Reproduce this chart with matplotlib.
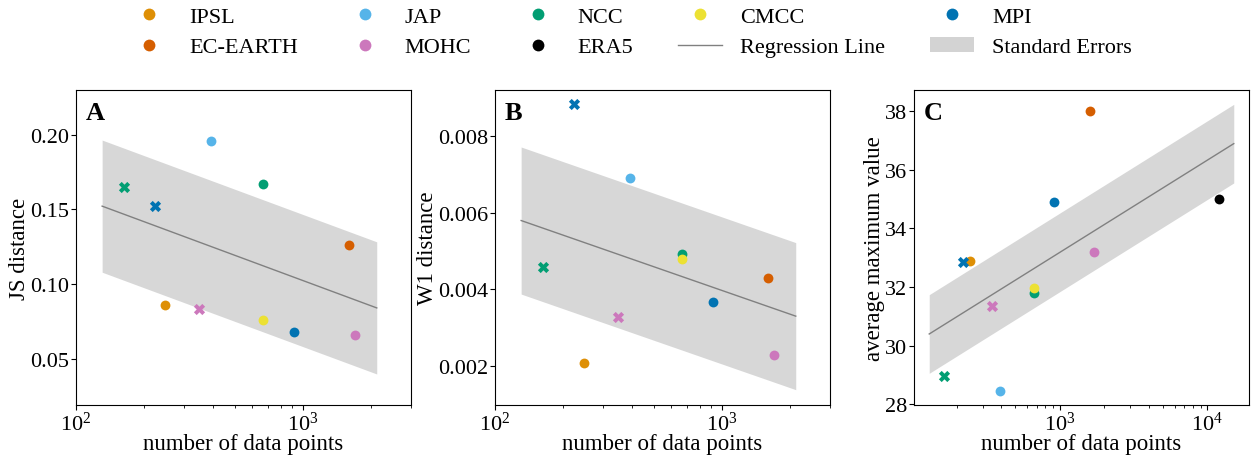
import numpy as np
import matplotlib
matplotlib.use("Agg")
import matplotlib.pyplot as plt
from matplotlib.lines import Line2D
from matplotlib.patches import Patch

plt.rcParams['font.family'] = ['Liberation Serif', 'DejaVu Serif']
plt.rcParams['mathtext.fontset'] = 'custom'
plt.rcParams['mathtext.rm'] = 'Liberation Serif'
plt.rcParams['mathtext.it'] = 'Liberation Serif:italic'
plt.rcParams['font.size'] = 16

# ---- data ----
model_names = ['IPSL', 'JAP', 'NCC', 'CMCC', 'MPI', 'EC-EARTH', 'MOHC']
model_colors = ['#de8f05', '#56b4e9', '#029e73', '#ece133', '#0173b2', '#d55e00', '#cc78bc']
n_points = [248, 395, 665, 665, 912, 1592, 1695]
js_dist = [0.086, 0.196, 0.167, 0.0758, 0.0682, 0.1264, 0.0662]
w1_dist = [0.00208, 0.0069, 0.00492, 0.00478, 0.00367, 0.00428, 0.00228]
avg_max = [32.9, 28.46, 31.78, 31.96, 34.91, 38.0, 33.19]

cross_names = ['NCC', 'MPI', 'MOHC']
cross_n = [163, 222, 348]
cross_js = [0.165, 0.152, 0.083]
cross_w1 = [0.00458, 0.00885, 0.00327]
cross_avg = [28.95, 32.85, 31.35]

era5_n = [12100]
era5_avg = [35.01]

color_of = dict(zip(model_names, model_colors))

fig = plt.figure(figsize=(12.51, 4.56), dpi=100)
W, H = 1251, 456
def ax_at(l, r, t=91, b=406):
    return fig.add_axes([l / W, 1 - b / H, (r - l) / W, (b - t) / H])

axA = ax_at(76, 411)
axB = ax_at(495, 830)
axC = ax_at(914, 1249)


def regression(ax, xs, ys):
    xs = np.asarray(xs, float)
    ys = np.asarray(ys, float)
    lx = np.log10(xs)
    slope, intercept = np.polyfit(lx, ys, 1)
    resid = ys - (slope * lx + intercept)
    s = np.sqrt(np.sum(resid ** 2) / (len(xs) - 2))
    se = s / np.sqrt(np.sum((lx - lx.mean()) ** 2))
    xl = np.logspace(np.log10(xs.min() / 1.25), np.log10(xs.max() * 1.25), 100)
    yl = slope * np.log10(xl) + intercept
    ax.fill_between(xl, yl - se, yl + se, color='lightgrey', alpha=0.9, lw=0, zorder=1)
    ax.plot(xl, yl, color='grey', lw=1, zorder=2)


def panel(ax, yvals, cross_vals, extra_x=None, extra_y=None):
    allx = list(n_points) + list(cross_n)
    ally = list(yvals) + list(cross_vals)
    if extra_x is not None:
        allx += list(extra_x)
        ally += list(extra_y)
    regression(ax, allx, ally)
    for name, x, y in zip(model_names, n_points, yvals):
        ax.scatter([x], [y], s=50, color=color_of[name], marker='o', lw=0, zorder=3)
    for name, x, y in zip(cross_names, cross_n, cross_vals):
        ax.scatter([x], [y], s=65, color=color_of[name], marker='X', lw=0, zorder=3)
    if extra_x is not None:
        ax.scatter(extra_x, extra_y, s=50, color='black', marker='o', lw=0, zorder=3)
    ax.set_xscale('log')
    ax.set_xlabel('number of data points', fontsize=16.5, labelpad=-1.5)


panel(axA, js_dist, cross_js)
axA.set_xlim(100, 3000)
axA.set_ylim(0.019, 0.230)
axA.set_yticks([0.05, 0.10, 0.15, 0.20])
axA.set_ylabel('JS distance', fontsize=16.5, labelpad=0)

panel(axB, w1_dist, cross_w1)
axB.set_xlim(100, 3000)
axB.set_ylim(0.00097, 0.00921)
axB.set_yticks([0.002, 0.004, 0.006, 0.008])
axB.set_ylabel('W1 distance', fontsize=16.5, labelpad=0)

panel(axC, avg_max, cross_avg, era5_n, era5_avg)
axC.set_ylabel('average maximum value', fontsize=16.5, labelpad=0)

for ax, letter in zip([axA, axB, axC], ['A', 'B', 'C']):
    ax.text(0.03, 0.965, letter, transform=ax.transAxes, ha='left', va='top',
            fontsize=19, fontweight='bold')
    ax.tick_params(axis='both', which='major', labelsize=16, length=3.5)
    ax.tick_params(axis='x', which='major', pad=1.5)
    ax.tick_params(axis='y', which='major', pad=1.5)

legend_order = ['IPSL', 'EC-EARTH', 'JAP', 'MOHC', 'NCC', 'ERA5', 'CMCC', 'Regression Line', 'MPI', 'Standard Errors']
handles = []
for lab in legend_order:
    if lab == 'Regression Line':
        handles.append(Line2D([], [], color='grey', lw=1))
    elif lab == 'Standard Errors':
        handles.append(Patch(color='lightgrey', lw=0))
    elif lab == 'ERA5':
        handles.append(Line2D([], [], ls='', marker='o', color='black', markersize=8.5, mew=0))
    else:
        handles.append(Line2D([], [], ls='', marker='o', color=color_of[lab], markersize=8.5, mew=0))
fig.legend(handles, legend_order, loc='upper center', bbox_to_anchor=(0.503, 1.028), ncol=5,
           frameon=False, fontsize=16, labelspacing=0.45)

fig.savefig('out.png', dpi=100)
